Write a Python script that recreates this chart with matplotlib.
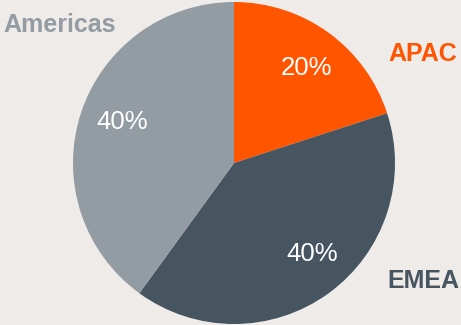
import matplotlib.pyplot as plt

regions = ["APAC", "EMEA", "Americas"]
shares = [20, 40, 40]
colors = ["#FF5500", "#475560", "#939BA3"]

# where the text goes, in pixel coords (y measured from bottom)
pct_pos = [(306, 257), (312, 71), (122, 203)]
name_pos = [(388, 271, "left"), (387, 44, "left"), (3, 300, "left")]

fig = plt.figure(figsize=(4.61, 3.25), dpi=100)
fig.patch.set_facecolor("#EFEBE8")
ax = fig.add_axes([0, 0, 1, 1])
ax.set_facecolor("#EFEBE8")

ax.pie(shares, colors=colors, startangle=90, counterclock=False,
       center=(234, 162), radius=161, wedgeprops=dict(linewidth=0))

for share, (x, y) in zip(shares, pct_pos):
    ax.text(x, y, f"{share}%", color="white", fontsize=18.5,
            family="Liberation Sans", ha="center", va="center")

for name, col, (x, y, ha) in zip(regions, colors, name_pos):
    ax.text(x, y, name, color=col, fontsize=18, fontweight="bold",
            family="Liberation Sans", ha=ha, va="center")

ax.set_xlim(0, 461)
ax.set_ylim(0, 325)
ax.set_aspect("equal")
ax.axis("off")

fig.savefig("out.png", dpi=100, facecolor=fig.get_facecolor())
